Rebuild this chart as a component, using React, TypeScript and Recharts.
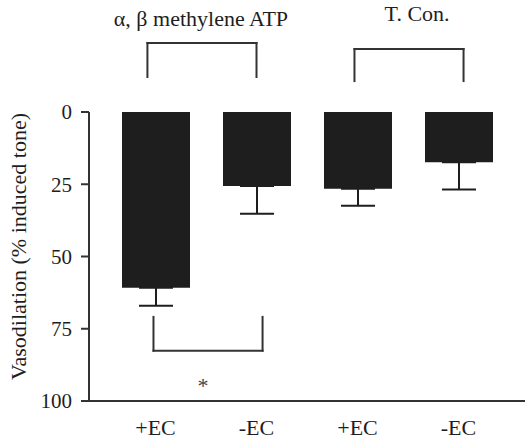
import React from 'react';
import { BarChart, Bar, XAxis, YAxis, ErrorBar, ReferenceLine, ReferenceDot } from 'recharts';

const categories = ['+EC', '-EC', '+EC', '-EC'];
const vasodilation = [60.8, 25.6, 26.6, 17.4];
const sem = [6.2, 9.6, 5.8, 9.4];
const yTicks = [0, 25, 50, 75, 100];

// comparison brackets, x in bar-index units, y in % units
const bracketFrom = [-0.08, 1.97, -0.02];
const bracketTo = [1.0, 3.05, 1.06];
const bracketBarY = [-23.9, -21.8, 82.6];
const bracketEndY = [-12.1, -10.7, 70.9];

const groupTitles = ['α, β methylene ATP', 'T. Con.'];
const groupTitleX = [0.45, 2.59];
const groupTitleY = [-32.5, -34.2];

const starX = 0.47;
const starY = 94.7;

const FONT = 'Liberation Serif';
const INK = '#1e1e1e';

const data = categories.map((name, i) => ({
  name,
  pos: i,
  value: vasodilation[i],
  err: [0, sem[i]],
}));

const YLabel = (props: any) => {
  const { viewBox } = props;
  const cx = viewBox.x + 18;
  const cy = viewBox.y + viewBox.height / 2 - 10;
  return (
    <text
      x={cx}
      y={cy}
      transform={`rotate(-90, ${cx}, ${cy})`}
      textAnchor="middle"
      dominantBaseline="central"
      fontSize={22}
      fill={INK}
      fontFamily={FONT}
    >
      Vasodilation (% induced tone)
    </text>
  );
};

const App: React.FC = () => {
  const lineProps = {
    xAxisId: 'n',
    stroke: '#333',
    strokeWidth: 2,
    strokeLinecap: 'square' as const,
    ifOverflow: 'visible' as const,
  };

  return (
    <div style={{ position: 'absolute', left: 0, top: 0, background: '#fff' }}>
      <BarChart
        width={525}
        height={441}
        data={data}
        margin={{ top: 112, right: 0, bottom: 0, left: 0 }}
      >
        <XAxis
          xAxisId="c"
          dataKey="name"
          height={40}
          padding={{ left: 16, right: 16 }}
          tickLine={false}
          tickSize={0}
          tickMargin={18}
          axisLine={{ stroke: '#333', strokeWidth: 2 }}
          tick={{ fill: INK, fontSize: 22, fontFamily: FONT }}
        />
        {/* hidden numeric twin of the category axis: bar i sits at x = i */}
        <XAxis
          xAxisId="n"
          dataKey="pos"
          type="number"
          domain={['dataMin', 'dataMax']}
          padding={{ left: 66.5, right: 66.5 }}
          allowDataOverflow
          hide
        />
        <YAxis
          reversed
          domain={[0, 100]}
          ticks={yTicks}
          width={89}
          tickSize={8}
          tickMargin={9}
          axisLine={{ stroke: '#333', strokeWidth: 2 }}
          tickLine={{ stroke: '#333', strokeWidth: 2 }}
          tick={{ fill: INK, fontSize: 21, fontFamily: FONT }}
          label={YLabel}
        />
        <Bar dataKey="value" xAxisId="c" fill={INK} barSize={68} isAnimationActive={false}>
          <ErrorBar dataKey="err" width={17} stroke={INK} strokeWidth={2} isAnimationActive={false} />
        </Bar>

        {bracketFrom.map((x0, i) => {
          const x1 = bracketTo[i];
          const yb = bracketBarY[i];
          const ye = bracketEndY[i];
          return (
            <React.Fragment key={`br-${i}`}>
              <ReferenceLine {...lineProps} segment={[{ x: x0, y: ye }, { x: x0, y: yb }]} />
              <ReferenceLine {...lineProps} segment={[{ x: x0, y: yb }, { x: x1, y: yb }]} />
              <ReferenceLine {...lineProps} segment={[{ x: x1, y: yb }, { x: x1, y: ye }]} />
            </React.Fragment>
          );
        })}

        {groupTitles.map((t, i) => (
          <ReferenceDot
            key={`t-${i}`}
            xAxisId="n"
            x={groupTitleX[i]}
            y={groupTitleY[i]}
            r={0}
            stroke="none"
            fill="none"
            ifOverflow="visible"
            label={{ value: t, position: 'center', fill: INK, fontSize: 22, fontFamily: FONT }}
          />
        ))}

        <ReferenceDot
          xAxisId="n"
          x={starX}
          y={starY}
          r={0}
          stroke="none"
          fill="none"
          ifOverflow="visible"
          label={{ value: '*', position: 'center', fill: '#444', fontSize: 22, fontFamily: FONT }}
        />
      </BarChart>
    </div>
  );
};

export default App;
